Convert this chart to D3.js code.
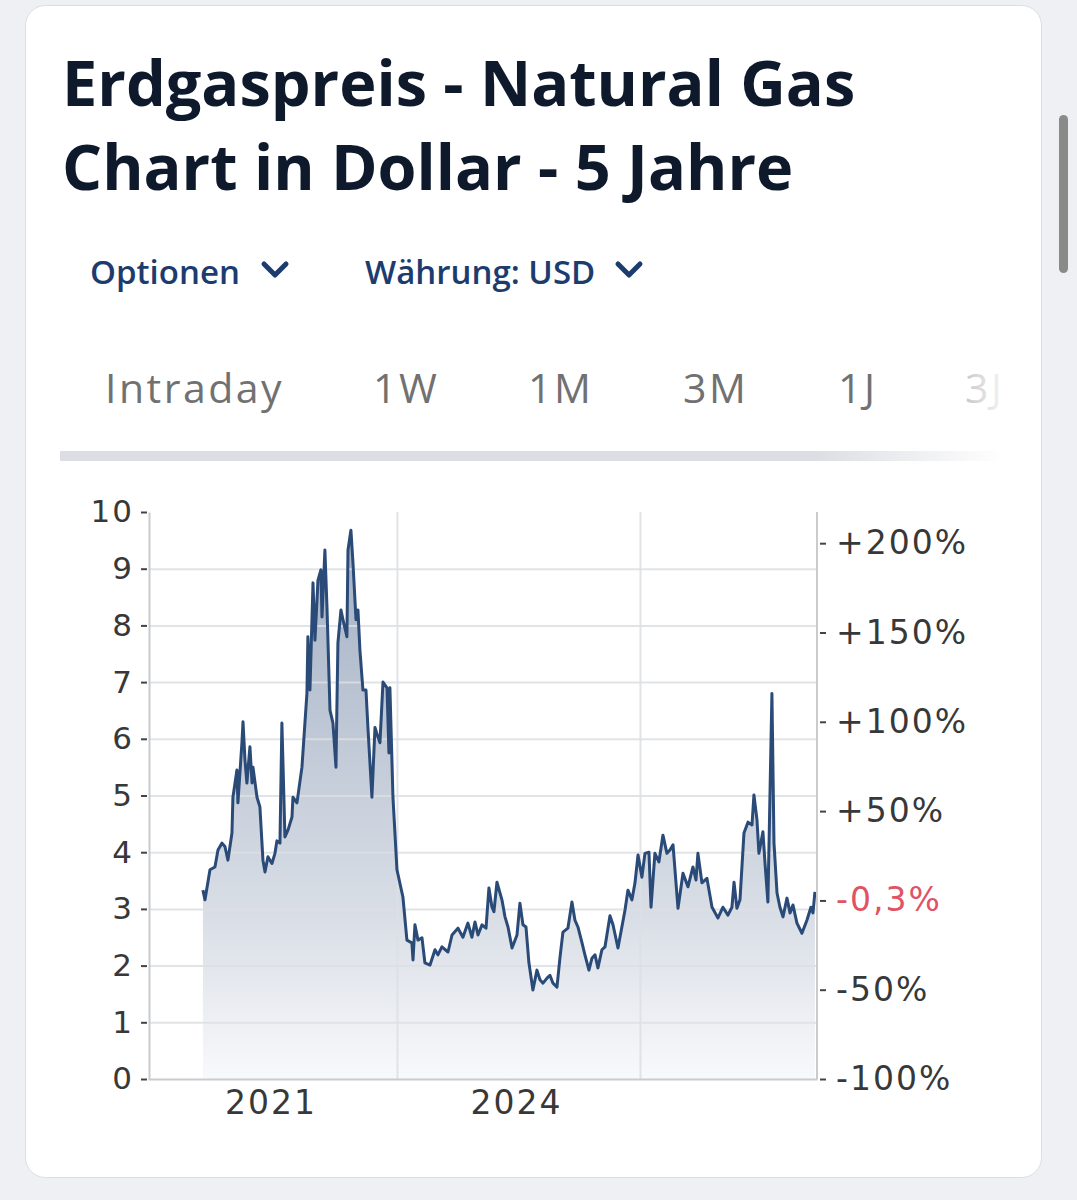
<!DOCTYPE html>
<html>
<head>
<meta charset="utf-8">
<script src="https://cdn.jsdelivr.net/npm/d3@7"></script>
<style>
  html, body { margin: 0; padding: 0; background: #eef0f3; }
  svg { display: block; }
</style>
</head>
<body>
<svg id="viz"></svg>
<script>
// chart values (decimal years / USD)
const dates = [
  2021.403, 2021.420, 2021.461, 2021.502, 2021.527, 2021.560, 2021.584, 2021.609, 2021.642, 2021.650,
  2021.683, 2021.691, 2021.724, 2021.733, 2021.749, 2021.765, 2021.790, 2021.807, 2021.815, 2021.848,
  2021.872, 2021.897, 2021.914, 2021.938, 2021.971, 2021.996, 2022.012, 2022.037, 2022.053, 2022.078,
  2022.103, 2022.136, 2022.144, 2022.177, 2022.218, 2022.259, 2022.267, 2022.284, 2022.309, 2022.325,
  2022.350, 2022.374, 2022.383, 2022.407, 2022.424, 2022.449, 2022.473, 2022.498, 2022.514, 2022.539,
  2022.556, 2022.588, 2022.597, 2022.621, 2022.638, 2022.663, 2022.679, 2022.695, 2022.720, 2022.745,
  2022.761, 2022.794, 2022.819, 2022.844, 2022.860, 2022.885, 2022.918, 2022.934, 2022.942, 2022.967,
  2023.000, 2023.049, 2023.082, 2023.123, 2023.132, 2023.148, 2023.173, 2023.206, 2023.230, 2023.272,
  2023.313, 2023.337, 2023.370, 2023.420, 2023.453, 2023.502, 2023.543, 2023.584, 2023.617, 2023.642,
  2023.667, 2023.700, 2023.733, 2023.757, 2023.782, 2023.798, 2023.823, 2023.864, 2023.889, 2023.914,
  2023.947, 2023.988, 2024.012, 2024.037, 2024.062, 2024.086, 2024.119, 2024.152, 2024.177, 2024.202,
  2024.235, 2024.259, 2024.284, 2024.317, 2024.342, 2024.366, 2024.407, 2024.440, 2024.465, 2024.490,
  2024.523, 2024.547, 2024.580, 2024.605, 2024.630, 2024.654, 2024.687, 2024.712, 2024.753, 2024.778,
  2024.819, 2024.877, 2024.901, 2024.934, 2024.959, 2024.984, 2025.016, 2025.041, 2025.074, 2025.091,
  2025.123, 2025.156, 2025.189, 2025.222, 2025.247, 2025.272, 2025.313, 2025.354, 2025.395, 2025.436,
  2025.461, 2025.477, 2025.510, 2025.551, 2025.593, 2025.642, 2025.683, 2025.724, 2025.757, 2025.774,
  2025.798, 2025.823, 2025.856, 2025.889, 2025.922, 2025.938, 2025.963, 2025.979, 2026.012, 2026.029,
  2026.053, 2026.086, 2026.103, 2026.128, 2026.152, 2026.177, 2026.210, 2026.235, 2026.259, 2026.292,
  2026.333, 2026.374, 2026.407, 2026.424, 2026.440
];
const prices = [
  3.33, 3.16, 3.69, 3.74, 4.04, 4.16, 4.10, 3.86, 4.34, 4.97,
  5.45, 4.87, 5.93, 6.30, 5.63, 5.22, 5.86, 5.22, 5.50, 4.97,
  4.80, 3.86, 3.65, 3.92, 3.80, 3.98, 4.20, 4.16, 6.28, 4.27,
  4.39, 4.62, 4.97, 4.87, 5.50, 6.80, 7.80, 6.86, 8.75, 7.74,
  8.80, 8.98, 8.15, 9.33, 8.32, 6.50, 6.28, 5.50, 7.69, 8.27,
  8.10, 7.80, 9.33, 9.68, 9.10, 8.10, 8.27, 7.57, 6.86, 6.86,
  6.20, 4.97, 6.20, 6.03, 5.93, 7.00, 6.90, 5.75, 6.90, 4.97,
  3.69, 3.21, 2.45, 2.40, 2.10, 2.72, 2.45, 2.49, 2.05, 2.01,
  2.28, 2.19, 2.33, 2.24, 2.54, 2.66, 2.50, 2.75, 2.50, 2.77,
  2.54, 2.72, 2.66, 3.37, 3.03, 2.95, 3.47, 3.16, 2.86, 2.68,
  2.31, 2.54, 3.10, 2.72, 2.68, 2.05, 1.57, 1.92, 1.75, 1.69,
  1.78, 1.83, 1.69, 1.62, 2.15, 2.59, 2.66, 3.12, 2.80, 2.68,
  2.40, 2.19, 1.92, 2.13, 2.19, 1.96, 2.28, 2.33, 2.88, 2.72,
  2.31, 2.98, 3.33, 3.16, 3.46, 3.95, 3.56, 3.98, 4.00, 3.03,
  3.98, 3.83, 4.30, 3.98, 4.04, 4.13, 3.01, 3.63, 3.39, 3.74,
  3.51, 3.98, 3.46, 3.54, 3.03, 2.84, 3.03, 2.89, 3.03, 3.47,
  3.01, 3.16, 4.34, 4.53, 4.48, 5.01, 4.57, 3.98, 4.36, 3.81,
  3.12, 6.80, 4.16, 3.28, 3.03, 2.86, 3.19, 2.93, 3.07, 2.75,
  2.57, 2.80, 3.03, 2.93, 3.30
];

const priceTicks = [0, 1, 2, 3, 4, 5, 6, 7, 8, 9, 10];
const pctTicks = [200, 150, 100, 50, -50, -100];
const basePrice = 3.15;          // price that the % axis refers to
const lastChangePct = -0.3;      // current change shown in red
const yearGrid = [2023, 2025];
const yearLabelPos = [2021.96, 2023.98];
const yearLabels = ["2021", "2024"];

const titleLines = ["Erdgaspreis - Natural Gas", "Chart in Dollar - 5 Jahre"];
const tabs = ["Intraday", "1W", "1M", "3M", "1J", "3J"];
const tabX = [105, 373, 528, 683, 838, 965];

const width = 1077, height = 1200;
const svg = d3.select("#viz").attr("width", width).attr("height", height);
const defs = svg.append("defs");

// card + scrollbar
svg.append("rect")
  .attr("x", 25.5).attr("y", 5.5).attr("width", 1016).attr("height", 1172)
  .attr("rx", 20).attr("fill", "#fff").attr("stroke", "#dcdee2");
svg.append("rect")
  .attr("x", 1059).attr("y", 115).attr("width", 9).attr("height", 158)
  .attr("rx", 4.5).attr("fill", "#8a8a8a");

// title
svg.append("g").selectAll("text")
  .data(titleLines)
  .join("text")
  .attr("x", 62)
  .attr("y", (d, i) => 106 + i * 84)
  .attr("font-family", "'Open Sans', sans-serif")
  .attr("font-weight", 700)
  .attr("font-size", 63)
  .attr("fill", "#0e1a2c")
  .text(d => d);

// option dropdowns
const opts = [{ t: "Optionen", x: 90, cx: 275 }, { t: "Währung: USD", x: 365, cx: 629 }];
const optG = svg.append("g");
optG.selectAll("text").data(opts).join("text")
  .attr("x", d => d.x).attr("y", 284)
  .attr("font-family", "'Open Sans', sans-serif")
  .attr("font-weight", 600).attr("font-size", 33)
  .attr("fill", "#1d3c6e")
  .text(d => d.t);
optG.selectAll("path").data(opts).join("path")
  .attr("d", d => `M${d.cx - 11},${264}L${d.cx},${275}L${d.cx + 11},${264}`)
  .attr("fill", "none").attr("stroke", "#1d3c6e")
  .attr("stroke-width", 5).attr("stroke-linecap", "round").attr("stroke-linejoin", "round");

// tabs
const fadeText = defs.append("linearGradient").attr("id", "fadeText")
  .attr("gradientUnits", "userSpaceOnUse").attr("x1", 962).attr("x2", 1002);
fadeText.append("stop").attr("offset", 0).attr("stop-color", "#c4c4c4");
fadeText.append("stop").attr("offset", 1).attr("stop-color", "#f4f4f4");

svg.append("g").selectAll("text")
  .data(tabs)
  .join("text")
  .attr("x", (d, i) => tabX[i]).attr("y", 403)
  .attr("font-family", "'Open Sans', sans-serif")
  .attr("font-size", 41)
  .attr("letter-spacing", 2.5)
  .attr("fill", (d, i) => i === tabs.length - 1 ? "url(#fadeText)" : "#717171")
  .text(d => d);

const barFade = defs.append("linearGradient").attr("id", "barFade")
  .attr("gradientUnits", "userSpaceOnUse").attr("x1", 60).attr("x2", 1005);
barFade.append("stop").attr("offset", 0.8).attr("stop-color", "#dcdee3");
barFade.append("stop").attr("offset", 1).attr("stop-color", "#ffffff");
svg.append("rect")
  .attr("x", 60).attr("y", 451).attr("width", 945).attr("height", 10)
  .attr("fill", "url(#barFade)");

// chart
const plotL = 149, plotR = 817, plotT = 512, plotB = 1079;

const x = d3.scaleLinear().domain([2020.951, 2026.457]).range([plotL - 1, plotR]);
const y = d3.scaleLinear().domain([0, 10]).range([plotB, plotT]);
const yPct = d3.scaleLinear().domain([-100, 200]).range([y(0), y(basePrice * 3)]);

const series = dates.map((d, i) => ({ t: d, v: prices[i] }));

const areaFill = defs.append("linearGradient").attr("id", "areaFill")
  .attr("gradientUnits", "userSpaceOnUse")
  .attr("x1", 0).attr("x2", 0).attr("y1", plotT + 20).attr("y2", plotB);
areaFill.append("stop").attr("offset", 0).attr("stop-color", "#a3b0c4");
areaFill.append("stop").attr("offset", 0.7).attr("stop-color", "#d9dee6");
areaFill.append("stop").attr("offset", 1).attr("stop-color", "#f8f9fb");

const chart = svg.append("g");

chart.append("path")
  .datum(series)
  .attr("fill", "url(#areaFill)")
  .attr("d", d3.area().x(d => x(d.t)).y0(y(0)).y1(d => y(d.v)));

// grid
chart.append("g")
  .attr("transform", `translate(${plotL},0)`)
  .call(d3.axisLeft(y).tickValues(priceTicks.slice(1, -1)).tickSize(-(plotR - plotL)).tickFormat(""))
  .call(g => g.select(".domain").remove())
  .call(g => g.selectAll("line").attr("stroke", "#dcdfe3").attr("stroke-opacity", 0.85).attr("stroke-width", 2));

chart.append("g")
  .attr("transform", `translate(0,${plotT})`)
  .call(d3.axisBottom(x).tickValues(yearGrid).tickSize(plotB - plotT).tickFormat(""))
  .call(g => g.select(".domain").remove())
  .call(g => g.selectAll("line").attr("stroke", "#dcdfe3").attr("stroke-opacity", 0.85).attr("stroke-width", 2));

chart.append("path")
  .datum(series)
  .attr("fill", "none")
  .attr("stroke", "#2a4a78")
  .attr("stroke-width", 3)
  .attr("stroke-linejoin", "round")
  .attr("d", d3.line().x(d => x(d.t)).y(d => y(d.v)));

const labelFont = "'DejaVu Sans', Verdana, sans-serif";

// left price axis
chart.append("g")
  .attr("transform", `translate(${plotL},0)`)
  .call(d3.axisLeft(y).tickValues(priceTicks).tickSizeInner(8).tickSizeOuter(0).tickPadding(7))
  .call(g => g.select(".domain").attr("stroke", "#c9cbcf").attr("stroke-width", 2))
  .call(g => g.selectAll(".tick line").attr("stroke", "#444").attr("stroke-width", 2).attr("x1", -2))
  .call(g => g.selectAll(".tick text")
    .attr("font-family", labelFont).attr("font-size", 31).attr("letter-spacing", 2).attr("fill", "#383838"));

// right percent axis
const pctFmt = d => (d > 0 ? "+" : "") + d + "%";
chart.append("g")
  .attr("transform", `translate(${plotR},0)`)
  .call(d3.axisRight(yPct).tickValues(pctTicks).tickFormat(pctFmt).tickSizeInner(9).tickSizeOuter(0).tickPadding(10))
  .call(g => g.select(".domain").attr("stroke", "#c9cbcf").attr("stroke-width", 2)
    .attr("d", `M0,${plotT}V${plotB}`))
  .call(g => g.selectAll(".tick line").attr("stroke", "#444").attr("stroke-width", 2).attr("x1", 3))
  .call(g => g.selectAll(".tick text")
    .attr("font-family", labelFont).attr("font-size", 33).attr("letter-spacing", 2).attr("fill", "#383838"));

// current change label
const cur = chart.append("g")
  .attr("transform", `translate(${plotR},${yPct(lastChangePct)})`);
cur.append("line").attr("x1", 3).attr("x2", 9).attr("stroke", "#444").attr("stroke-width", 2);
cur.append("text")
  .attr("x", 19).attr("dy", "0.32em")
  .attr("font-family", labelFont).attr("font-size", 33).attr("letter-spacing", 2).attr("fill", "#e05364")
  .text(String(lastChangePct).replace(".", ",") + "%");

// bottom year axis
chart.append("g")
  .attr("transform", `translate(0,${plotB})`)
  .call(d3.axisBottom(x).tickValues(yearLabelPos).tickFormat((d, i) => yearLabels[i]).tickSize(0).tickPadding(12))
  .call(g => g.select(".domain").attr("stroke", "#c9cbcf").attr("stroke-width", 2))
  .call(g => g.selectAll(".tick text")
    .attr("font-family", labelFont).attr("font-size", 33).attr("letter-spacing", 2).attr("fill", "#383838"));
</script>
</body>
</html>
